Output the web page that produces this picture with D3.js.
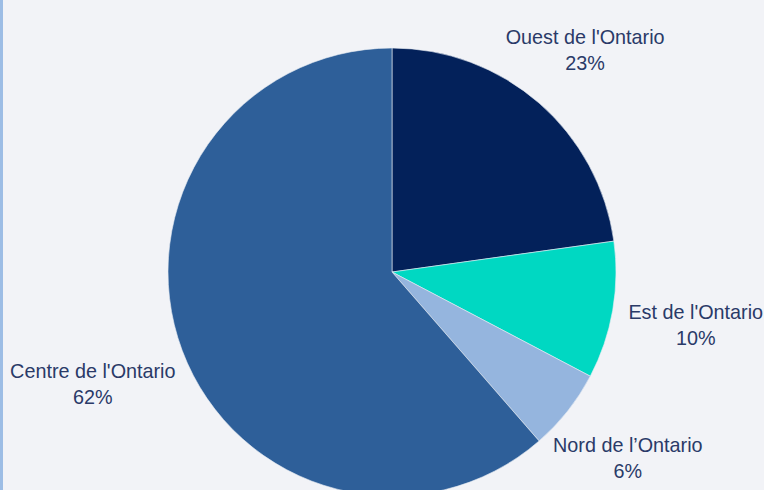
<!DOCTYPE html>
<html>
<head>
<meta charset="utf-8">
<script src="https://cdn.jsdelivr.net/npm/d3@7"></script>
<style>
  html, body { margin: 0; padding: 0; background: #f2f3f7; }
  #chart { width: 764px; height: 490px; position: relative; overflow: hidden; }
  #chart::before { content: ""; position: absolute; left: 0; top: 0; bottom: 0; width: 3px; background: #9dbde5; }
</style>
</head>
<body>
<div id="chart"></div>
<script>
// Regions, clockwise from 12 o'clock
const regions = ["Ouest de l'Ontario", "Est de l'Ontario", "Nord de l\u2019Ontario", "Centre de l'Ontario"];
const shares = [22.8, 9.9, 5.9, 61.4];
const shareLabels = ["23%", "10%", "6%", "62%"];
const colors = ["#03215a", "#00d8c2", "#95b5de", "#2e5f99"];

const width = 764, height = 490;
const cx = 392, cy = 272, radius = 224;

const svg = d3.select('#chart')
  .append('svg')
  .attr('width', width)
  .attr('height', height);

const pie = d3.pie().sort(null).value(d => d.value);
const arc = d3.arc().innerRadius(0).outerRadius(radius);

const slices = pie(regions.map((name, i) => ({ name, value: shares[i], label: shareLabels[i], color: colors[i] })));

const g = svg.append('g').attr('transform', `translate(${cx},${cy})`);

g.selectAll('path')
  .data(slices)
  .join('path')
  .attr('d', arc)
  .attr('fill', d => d.data.color)
  .attr('stroke', '#e8ecf4')
  .attr('stroke-width', 0.6);

// Outside labels: push out along the mid angle, plus half the text width horizontally
const labels = g.selectAll('text.label')
  .data(slices)
  .join('text')
  .attr('class', 'label')
  .attr('text-anchor', 'middle')
  .style('font-family', 'Arial, "Liberation Sans", sans-serif')
  .style('font-size', '19.8px')
  .style('fill', '#2a3a68');

labels.append('tspan').attr('x', 0).attr('dy', 0).text(d => d.data.name);
labels.append('tspan').attr('x', 0).attr('dy', '1.3em').text(d => d.data.label);

labels.each(function (d) {
  const node = d3.select(this);
  const w = this.getBBox().width;
  const a = (d.startAngle + d.endAngle) / 2;
  const ux = Math.sin(a), uy = -Math.cos(a);
  const dist = 242 + (w / 2) * Math.abs(ux);
  const x = dist * ux;
  const y = dist * uy;
  // block centre -> first baseline
  node.attr('transform', `translate(${x},${y - 6})`);
});
</script>
</body>
</html>
